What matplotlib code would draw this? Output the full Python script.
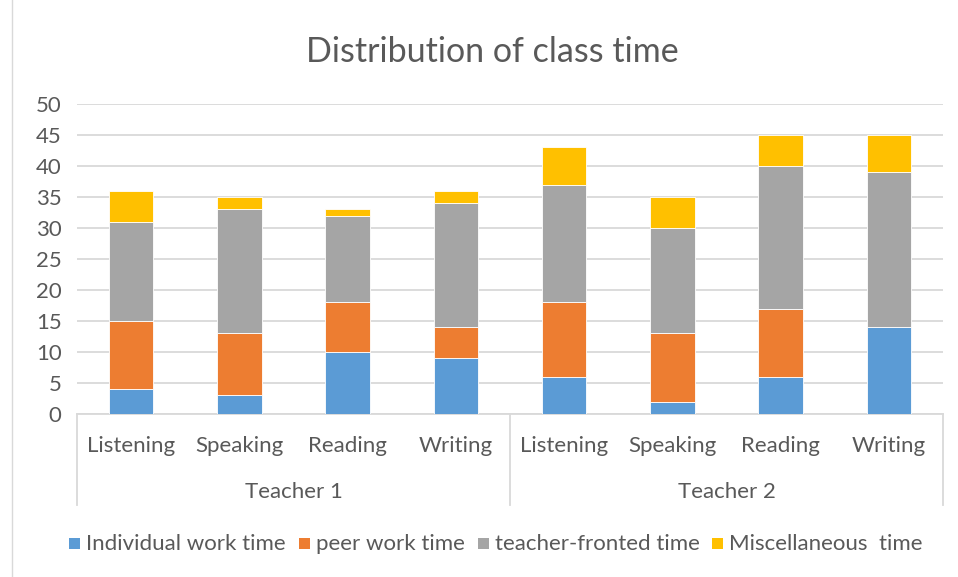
import matplotlib
matplotlib.use("Agg")
import matplotlib.pyplot as plt
import matplotlib.transforms as mtransforms
from matplotlib.patches import Rectangle
import numpy as np

skills = ["Listening", "Speaking", "Reading", "Writing"]
teachers = ["Teacher 1", "Teacher 2"]
series_names = ["Individual work time", "peer work time", "teacher-fronted time", "Miscellaneous  time"]
individual = [4, 3, 10, 9, 6, 2, 6, 14]
peer = [11, 10, 8, 5, 12, 11, 11, 0]
teacher_fronted = [16, 20, 14, 20, 19, 17, 23, 25]
misc = [5, 2, 1, 2, 6, 5, 5, 6]
colors = ["#5B9BD5", "#ED7D31", "#A5A5A5", "#FFC000"]
yticks = [0, 5, 10, 15, 20, 25, 30, 35, 40, 45, 50]

plt.rcParams['font.family'] = ['Lato', 'DejaVu Sans']
text_color = "#595959"
grid_color = "#D9D9D9"
W, H = 958, 577

fig = plt.figure(figsize=(9.58, 5.77), dpi=100)
ax = fig.add_axes([77/W, 1-414/H, (943-77)/W, (414-104)/H])

x = np.arange(len(individual))
bottom = np.zeros(len(x))
for vals, col in zip([individual, peer, teacher_fronted, misc], colors):
    ax.bar(x, vals, bottom=bottom, width=0.41, color=col, edgecolor="white", linewidth=0.6, zorder=3)
    bottom += np.array(vals)

ax.set_xlim(-0.5, len(x) - 0.5)
ax.set_ylim(0, 50)
ax.set_yticks(yticks)
ax.set_yticklabels([str(t) for t in yticks], fontsize=16, color=text_color)
ax.tick_params(axis='y', length=0, pad=11)
ax.set_xticks([])
ax.grid(axis='y', color=grid_color, linewidth=1.3, zorder=0)
for s in ["top", "right", "left"]:
    ax.spines[s].set_visible(False)
ax.spines["bottom"].set_color(grid_color)
ax.spines["bottom"].set_linewidth(1.3)

trans = mtransforms.blended_transform_factory(ax.transData, ax.transAxes)
for xv in [-0.5, 3.5, 7.5]:
    ax.plot([xv, xv], [0, -91/310], transform=trans, color=grid_color, linewidth=1.3, clip_on=False)

labels = skills * 2
for xi, lab in zip(x, labels):
    ax.text(xi, -32/310, lab, transform=trans, ha='center', va='center', fontsize=16, color=text_color)
for gi, t in enumerate(teachers):
    ax.text(1.5 + 4*gi, -78/310, t, transform=trans, ha='center', va='center', fontsize=16, color=text_color)

fig.text(492/W, 1-52/H, "Distribution of class time", ha='center', va='center', fontsize=24.5, color=text_color)

# manual legend with common baseline
renderer = fig.canvas.get_renderer()
leg_fs = 16
sq = 11
gap_txt = 6
gap_item = 13
widths = []
for name in series_names:
    t = fig.text(0, 0, name, fontsize=leg_fs)
    widths.append(t.get_window_extent(renderer).width)
    t.remove()
total = sum(sq + gap_txt + w for w in widths) + gap_item * (len(widths) - 1)
cx = 496
xpos = cx - total / 2
base_y = H - 550
for name, col, w in zip(series_names, colors, widths):
    fig.patches.append(Rectangle((xpos / W, (base_y + 1) / H), sq / W, sq / H, transform=fig.transFigure,
                                 facecolor=col, edgecolor='none'))
    fig.text((xpos + sq + gap_txt) / W, base_y / H, name, fontsize=leg_fs, color=text_color,
             ha='left', va='baseline')
    xpos += sq + gap_txt + w + gap_item

fig.patches.append(Rectangle((12/W, -0.01), 1.0, 1.02, transform=fig.transFigure, fill=False,
                             edgecolor=grid_color, linewidth=1.0))

fig.savefig("out.png", dpi=100)
